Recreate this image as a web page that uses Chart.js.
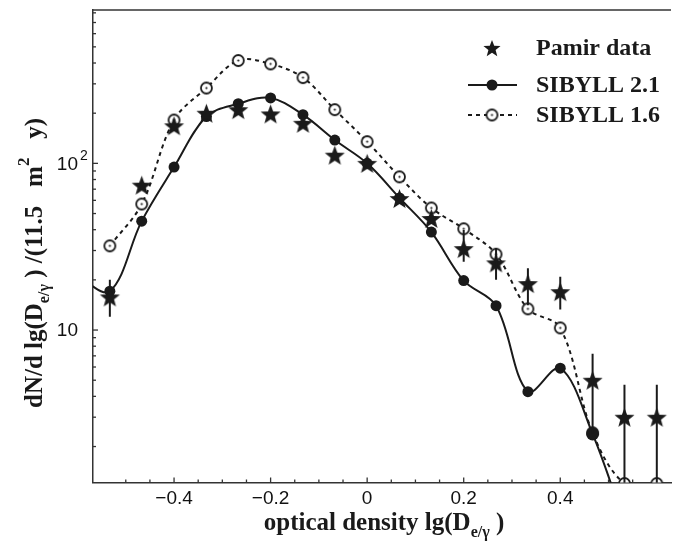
<!DOCTYPE html>
<html>
<head>
<meta charset="utf-8">
<script src="https://cdn.jsdelivr.net/npm/chart.js@4.4.1/dist/chart.umd.min.js"></script>
<style>
  html, body { margin: 0; padding: 0; background: #fff; }
  #wrap { width: 677px; height: 547px; }
</style>
</head>
<body>
<div id="wrap"><canvas id="chart" width="677" height="547"></canvas></div>
<script>
// optical density lg(D e/gamma) bins
const lgD = [-0.533, -0.467, -0.4, -0.333, -0.267, -0.2, -0.133, -0.067, 0, 0.067, 0.133, 0.2, 0.267, 0.333, 0.4, 0.467, 0.533, 0.6];
const pamir = [15.8, 74, 168, 200, 210, 198, 174, 112, 100, 61.5, 46.7, 30.8, 25.3, 19, 17, 5, 3, 3];
const pamirLo = [12, null, null, null, null, null, null, null, null, null, null, 25.7, 20, 14.1, 13.3, 2.4, 1, 1];
const pamirHi = [20, null, null, null, null, null, null, null, null, null, null, 39.8, 31, 23.5, 20.9, 7.2, 4.7, 4.7];

const lgD21 = [-0.6, -0.533, -0.467, -0.4, -0.333, -0.267, -0.2, -0.133, -0.067, 0, 0.067, 0.133, 0.2, 0.267, 0.333, 0.4, 0.467, 0.533];
const sibyll21 = [21, 17.1, 45, 95, 191, 228, 247, 196, 138, 100, 62, 38.7, 19.8, 14, 4.27, 5.9, 2.38, 0.7];
const sibyll16 = [32, 57, 182, 283, 414, 395, 327, 210, 135, 83, 54, 40.5, 28.5, 13.4, 10.3, 2.42, 1.2, 1.2];

const yMajor = [10, 100];
const yMinor = [2, 3, 4, 5, 6, 7, 8, 9, 20, 30, 40, 50, 60, 70, 80, 90, 200, 300, 400, 500, 600, 700, 800];

const INK = '#1a1a1a';
const SANS = '"Liberation Sans", Arial, sans-serif';
const SERIF = '"Liberation Serif", "Times New Roman", serif';

// filled five point star
function makeStar(R) {
  const c = document.createElement('canvas');
  const s = Math.ceil(R * 2 + 2);
  c.width = s; c.height = s;
  const g = c.getContext('2d');
  const r = R * 0.42;
  g.beginPath();
  for (let i = 0; i < 10; i++) {
    const rad = i % 2 === 0 ? R : r;
    const a = -Math.PI / 2 + i * Math.PI / 5;
    const px = s / 2 + rad * Math.cos(a);
    const py = s / 2 + rad * Math.sin(a) + R * 0.1;
    i === 0 ? g.moveTo(px, py) : g.lineTo(px, py);
  }
  g.closePath();
  g.fillStyle = INK;
  g.fill();
  return c;
}

// open circle with a dot in the middle
function makeDotCircle(R) {
  const c = document.createElement('canvas');
  const s = Math.ceil(R * 2 + 4);
  c.width = s; c.height = s;
  const g = c.getContext('2d');
  g.beginPath();
  g.arc(s / 2, s / 2, R, 0, Math.PI * 2);
  g.fillStyle = '#fff';
  g.fill();
  g.lineWidth = 1.8;
  g.strokeStyle = INK;
  g.stroke();
  g.beginPath();
  g.arc(s / 2, s / 2, 1.1, 0, Math.PI * 2);
  g.fillStyle = INK;
  g.fill();
  return c;
}

const starImg = makeStar(10.5);
const legendStar = makeStar(9);
const dotCircleImg = makeDotCircle(5.5);

function drawRuns(ctx, runs, x, y, base) {
  let total = 0;
  runs.forEach(r => {
    ctx.font = 'bold ' + (r.s || base) + 'px ' + SERIF;
    r.w = ctx.measureText(r.t).width;
    total += r.w;
  });
  let cx = x - total / 2;
  ctx.textAlign = 'left';
  ctx.textBaseline = 'alphabetic';
  runs.forEach(r => {
    ctx.font = 'bold ' + (r.s || base) + 'px ' + SERIF;
    ctx.fillText(r.t, cx, y + (r.dy || 0));
    cx += r.w;
  });
}

const decorPlugin = {
  id: 'decor',
  afterDatasetsDraw(chart) {
    const { ctx, chartArea: a, scales: { x, y } } = chart;
    ctx.save();
    ctx.beginPath();
    ctx.rect(a.left, a.top - 1, a.right - a.left, a.bottom - a.top + 1);
    ctx.clip();
    ctx.strokeStyle = INK;
    ctx.lineWidth = 2;
    lgD.forEach((v, i) => {
      if (pamirLo[i] == null) return;
      const px = x.getPixelForValue(v);
      ctx.beginPath();
      ctx.moveTo(px, y.getPixelForValue(pamirLo[i]));
      ctx.lineTo(px, y.getPixelForValue(pamirHi[i]));
      ctx.stroke();
    });
    ctx.restore();
  },
  afterDraw(chart) {
    const { ctx, chartArea: a, scales: { x, y } } = chart;
    ctx.save();
    ctx.strokeStyle = '#333';
    ctx.lineWidth = 1.3;
    // top frame line
    ctx.beginPath();
    ctx.moveTo(a.left, a.top);
    ctx.lineTo(a.right, a.top);
    ctx.stroke();
    // inward ticks on x
    x.ticks.forEach(t => {
      const k = t.value / 0.05;
      if (Math.abs(k - Math.round(k)) > 1e-6) return;
      const major = Math.abs(t.value / 0.2 - Math.round(t.value / 0.2)) < 1e-6;
      const px = x.getPixelForValue(t.value);
      ctx.beginPath();
      ctx.moveTo(px, a.bottom);
      ctx.lineTo(px, a.bottom - (major ? 5 : 3));
      ctx.stroke();
    });
    // inward ticks on y
    yMajor.concat(yMinor).forEach(v => {
      const py = y.getPixelForValue(v);
      const major = yMajor.includes(v);
      ctx.beginPath();
      ctx.moveTo(a.left, py);
      ctx.lineTo(a.left + (major ? 5 : 3), py);
      ctx.stroke();
    });
    // y tick labels (powers of ten)
    ctx.fillStyle = '#111';
    ctx.textBaseline = 'middle';
    yMajor.forEach(v => {
      const py = y.getPixelForValue(v);
      const e = Math.round(Math.log10(v));
      ctx.font = '19px ' + SANS;
      ctx.textAlign = 'right';
      ctx.fillText('10', a.left - 15, py + 1);
      if (e > 1) {
        ctx.font = '14px ' + SANS;
        ctx.textAlign = 'left';
        ctx.fillText(String(e), a.left - 13, py - 7);
      }
    });
    // axis titles
    ctx.fillStyle = INK;
    drawRuns(ctx, [
      { t: 'optical density lg(D' },
      { t: 'e/γ', s: 16, dy: 7 },
      { t: ' )' }
    ], (a.left + a.right) / 2 + 2, 530, 25);
    ctx.save();
    ctx.translate(42, 263);
    ctx.rotate(-Math.PI / 2);
    drawRuns(ctx, [
      { t: 'dN/d lg(D' },
      { t: 'e/γ', s: 16, dy: 7 },
      { t: ' ) /(11.5   m' },
      { t: '2', s: 17, dy: -13 },
      { t: '   y)' }
    ], 0, 0, 25);
    ctx.restore();
    // legend
    const lx0 = 468, lx1 = 517, mx = 492, tx = 536;
    ctx.drawImage(legendStar, mx - legendStar.width / 2, 48 - legendStar.height / 2);
    ctx.strokeStyle = INK;
    ctx.lineWidth = 2;
    ctx.beginPath();
    ctx.moveTo(lx0, 85); ctx.lineTo(lx1, 85);
    ctx.stroke();
    ctx.beginPath();
    ctx.arc(mx, 85, 5.5, 0, Math.PI * 2);
    ctx.fillStyle = INK;
    ctx.fill();
    ctx.setLineDash([4, 4]);
    ctx.beginPath();
    ctx.moveTo(lx0, 115); ctx.lineTo(lx1, 115);
    ctx.stroke();
    ctx.setLineDash([]);
    ctx.drawImage(dotCircleImg, mx - dotCircleImg.width / 2, 115 - dotCircleImg.height / 2);
    ctx.font = 'bold 24px ' + SERIF;
    ctx.textAlign = 'left';
    ctx.textBaseline = 'alphabetic';
    ctx.fillStyle = INK;
    ctx.fillText('Pamir data', tx, 55);
    ctx.fillText('SIBYLL 2.1', tx, 92);
    ctx.fillText('SIBYLL 1.6', tx, 122);
    ctx.restore();
  }
};

new Chart(document.getElementById('chart'), {
  type: 'line',
  data: {
    datasets: [
      {
        label: 'Pamir data',
        data: lgD.map((v, i) => ({ x: v, y: pamir[i] })),
        showLine: false,
        pointStyle: starImg,
        borderColor: INK,
        backgroundColor: INK
      },
      {
        label: 'SIBYLL 2.1',
        data: lgD21.map((v, i) => ({ x: v, y: sibyll21[i] })),
        borderColor: INK,
        borderWidth: 2,
        tension: 0.35,
        pointStyle: 'circle',
        pointRadius: lgD21.map(v => Math.abs(v - 0.467) < 1e-6 ? 6.5 : 5.5),
        pointBackgroundColor: INK,
        pointBorderWidth: 0
      },
      {
        label: 'SIBYLL 1.6',
        data: lgD.map((v, i) => ({ x: v, y: sibyll16[i] })),
        borderColor: INK,
        borderWidth: 2,
        borderDash: [4, 4],
        tension: 0.35,
        pointStyle: dotCircleImg
      }
    ]
  },
  options: {
    responsive: false,
    animation: false,
    layout: { padding: { top: 10, right: 0, left: 0, bottom: 0 } },
    plugins: {
      legend: { display: false },
      tooltip: { enabled: false },
      title: { display: false }
    },
    scales: {
      x: {
        type: 'linear',
        min: -0.5679,
        max: 0.6294,
        afterFit: (s) => { s.height = 64.5; },
        grid: { display: false, drawTicks: false },
        border: { display: true, color: '#333', width: 1.5 },
        ticks: {
          stepSize: 0.05,
          autoSkip: false,
          maxRotation: 0,
          padding: 5,
          color: '#111',
          font: { family: SANS, size: 19 },
          callback: (v) => {
            const k = v / 0.2;
            if (Math.abs(k - Math.round(k)) > 1e-6) return '';
            if (Math.abs(v) < 1e-9) return '0';
            const s = Math.abs(v).toFixed(1);
            return v < 0 ? '\u2212' + s : s;
          }
        }
      },
      y: {
        type: 'logarithmic',
        min: 1.217,
        max: 832,
        afterFit: (s) => { s.width = 93; },
        grid: { display: false, drawTicks: false },
        border: { display: true, color: '#333', width: 1.5 },
        ticks: { display: false }
      }
    }
  },
  plugins: [decorPlugin]
});
</script>
</body>
</html>
